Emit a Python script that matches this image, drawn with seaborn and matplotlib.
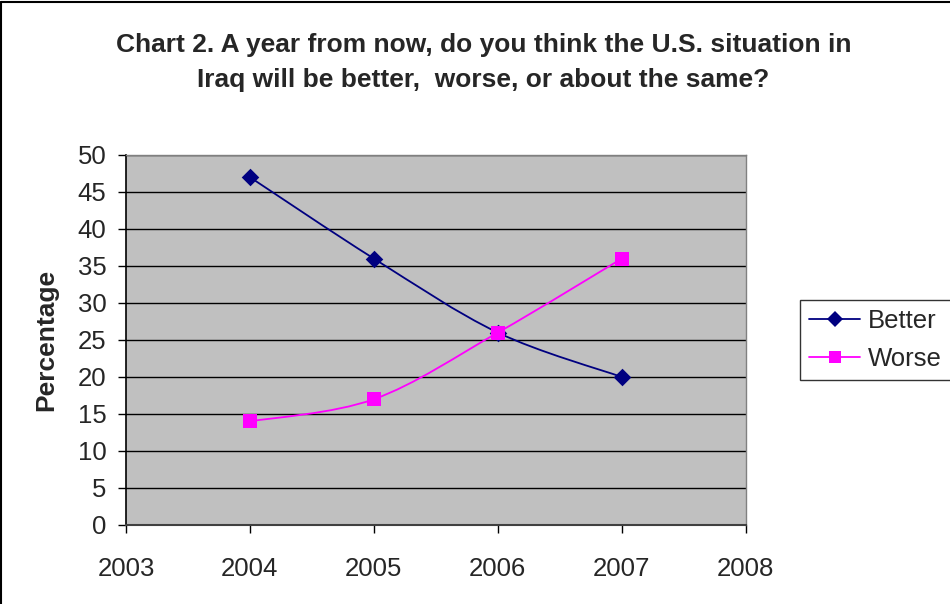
import numpy as np
import pandas as pd
import matplotlib
matplotlib.use("Agg")
import matplotlib.pyplot as plt
from matplotlib.path import Path
from matplotlib.patches import PathPatch
from matplotlib.lines import Line2D
import seaborn as sns

years = [2004, 2005, 2006, 2007]
better = [47, 36, 26, 20]
worse = [14, 17, 26, 36]
series_names = ["Better", "Worse"]
series_colors = ["#000080", "#FF00FF"]
series_markers = ["D", "s"]

title = "Chart 2. A year from now, do you think the U.S. situation in\nIraq will be better,  worse, or about the same?"

df = pd.DataFrame({
    "Year": years * 2,
    "Percentage": better + worse,
    "Series": [series_names[0]] * 4 + [series_names[1]] * 4,
})

sns.set_theme(style="white")
plt.rcParams["font.family"] = ["Liberation Sans", "DejaVu Sans"]

fig = plt.figure(figsize=(9.5, 6.04), dpi=100)
ax = fig.add_axes([0.1326, 0.1308, 0.6524, 0.6126])
ax.set_facecolor("#C0C0C0")


def smooth_path(xs, ys, tension=1 / 6):
    """Cubic Bezier path through the points (Catmull-Rom style smoothing)."""
    pts = np.column_stack([xs, ys]).astype(float)
    verts = [pts[0]]
    codes = [Path.MOVETO]
    n = len(pts)
    for i in range(n - 1):
        p0 = pts[i - 1] if i > 0 else pts[i]
        p1 = pts[i]
        p2 = pts[i + 1]
        p3 = pts[i + 2] if i + 2 < n else pts[i + 1]
        c1 = p1 + (p2 - p0) * tension
        c2 = p2 - (p3 - p1) * tension
        verts += [c1, c2, p2]
        codes += [Path.CURVE4] * 3
    return Path(verts, codes)


for name, color, marker in zip(series_names, series_colors, series_markers):
    sub = df[df["Series"] == name]
    ax.add_patch(PathPatch(smooth_path(sub["Year"].values, sub["Percentage"].values),
                           facecolor="none", edgecolor=color, lw=1.3, zorder=3))
    sns.scatterplot(data=sub, x="Year", y="Percentage", ax=ax, color=color,
                    marker=marker, s=110 if marker == "s" else 80,
                    edgecolor=color, linewidth=0, zorder=4, legend=False)

ax.set_xlim(2003, 2008)
ax.set_ylim(0, 50)
ax.set_xticks(range(2003, 2009))
ax.set_yticks(range(0, 51, 5))
ax.yaxis.grid(True, color="black", lw=1)
ax.xaxis.grid(False)
ax.set_axisbelow(True)
ax.tick_params(axis="both", direction="out", length=6, width=1, color="black",
               labelsize=18.5, left=True, bottom=True)
ax.tick_params(axis="x", pad=17)
ax.tick_params(axis="y", pad=8)
ax.set_xlabel("")
ax.set_ylabel("Percentage", fontsize=19, fontweight="bold", labelpad=14)
ax.spines["left"].set_color("black")
ax.spines["left"].set_linewidth(1.2)
ax.spines["bottom"].set_color("#404040")
ax.spines["bottom"].set_linewidth(1.5)
for side in ["top", "right"]:
    ax.spines[side].set_color("#808080")
    ax.spines[side].set_linewidth(1)

fig.text(0.509, 0.8965, title, ha="center", va="center", fontsize=19,
         fontweight="bold", linespacing=1.55)

handles = [Line2D([0], [0], color=c, marker=m, markersize=9 if m == "s" else 8,
                  lw=1.3, markeredgewidth=0)
           for c, m in zip(series_colors, series_markers)]
leg = fig.legend(handles, series_names, loc="upper left",
                 bbox_to_anchor=(0.842, 0.504), fontsize=18.5, frameon=True,
                 fancybox=False, edgecolor="black", handlelength=2.0,
                 handletextpad=0.3, borderpad=0.35, labelspacing=0.55,
                 borderaxespad=0)
leg.get_frame().set_linewidth(1)

# outer chart frame
fig.add_artist(Line2D([0.0015, 0.0015], [0, 0.997], color="black", lw=1.5,
                      transform=fig.transFigure))
fig.add_artist(Line2D([0.0015, 1], [0.997, 0.997], color="black", lw=1.5,
                      transform=fig.transFigure))

fig.savefig("out.png", dpi=100, facecolor="white")
